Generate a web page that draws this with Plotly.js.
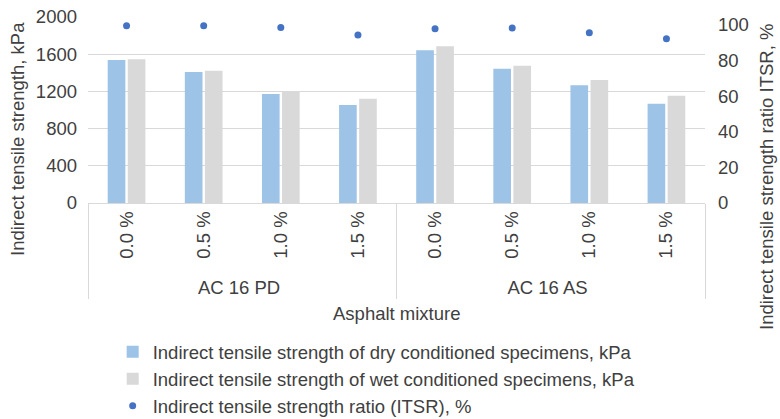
<!DOCTYPE html>
<html>
<head>
<meta charset="utf-8">
<script src="https://cdn.plot.ly/plotly-3.0.1.min.js"></script>
<style>html,body{margin:0;padding:0;background:#fff}#chart{width:780px;height:419px}</style>
</head>
<body>
<div id="chart"></div>
<script>
const groups = ["AC 16 PD","AC 16 PD","AC 16 PD","AC 16 PD","AC 16 AS","AC 16 AS","AC 16 AS","AC 16 AS"];
const contents = ["0.0 %","0.5 %","1.0 %","1.5 %","0.0 %","0.5 %","1.0 %","1.5 %"];
const dryITS = [1538, 1409, 1172, 1054, 1642, 1444, 1265, 1068];
const wetITS = [1545, 1423, 1197, 1122, 1685, 1477, 1323, 1154];
const itsr = [99.6, 99.6, 98.6, 94.4, 97.9, 98.3, 95.7, 92.3];
const leftTicks = [0, 400, 800, 1200, 1600, 2000];
const rightTicks = [0, 20, 40, 60, 80, 100];

const FONT = "Liberation Sans, Arial, sans-serif";
const TXT = "#404040";
const FS = 18.5;
const x = [groups, contents];

const data = [
  {type:"bar", name:"Indirect tensile strength of dry conditioned specimens, kPa", x:x, y:dryITS, marker:{color:"#9DC3E6"}},
  {type:"bar", name:"Indirect tensile strength of wet conditioned specimens, kPa", x:x, y:wetITS, marker:{color:"#D9D9D9"}},
  {type:"scatter", mode:"markers", name:"Indirect tensile strength ratio (ITSR), %", x:x, y:itsr, yaxis:"y2", marker:{color:"#4472C4", size:7}}
];

const layout = {
  width:780, height:419,
  margin:{l:88, r:75, t:17, b:216, autoexpand:false},
  paper_bgcolor:"#fff", plot_bgcolor:"#fff",
  font:{family:FONT, size:FS, color:TXT},
  barmode:"group", bargap:0.48, bargroupgap:0.12,
  showlegend:true,
  legend:{x:0.04, y:-0.70, xanchor:"left", yanchor:"top", orientation:"v", font:{size:FS, color:TXT}, tracegroupgap:0, itemwidth:30, bgcolor:"rgba(0,0,0,0)"},
  xaxis:{type:"multicategory", tickangle:-90, showline:true, linecolor:"#D9D9D9", linewidth:1, showdividers:true, dividercolor:"#D9D9D9", dividerwidth:1, ticks:"", tickfont:{size:FS, color:TXT}, fixedrange:true},
  yaxis:{range:[0,2000], tickvals:leftTicks, ticktext:leftTicks.map(String), showgrid:true, gridcolor:"#D9D9D9", gridwidth:1, zeroline:false, showline:false, ticks:"", ticklabelstandoff:10, tickfont:{size:FS, color:TXT}, fixedrange:true},
  yaxis2:{overlaying:"y", side:"right", range:[0,104.5], tickvals:rightTicks, ticktext:rightTicks.map(String), showgrid:false, zeroline:false, showline:false, ticks:"", ticklabelstandoff:12, tickfont:{size:FS, color:TXT}, fixedrange:true},
  annotations:[
    {text:"Indirect tensile strength, kPa", xref:"paper", yref:"paper", x:(17-88)/617, y:(203-139)/186, xanchor:"center", yanchor:"middle", textangle:-90, showarrow:false, font:{size:FS, color:TXT}},
    {text:"Indirect tensile strength ratio ITSR, %", xref:"paper", yref:"paper", x:(766-88)/617, y:(203-177)/186, xanchor:"center", yanchor:"middle", textangle:-90, showarrow:false, font:{size:FS, color:TXT}},
    {text:"Asphalt mixture", xref:"paper", yref:"paper", x:0.5, y:(203-313)/186, xanchor:"center", yanchor:"middle", showarrow:false, font:{size:FS, color:TXT}}
  ]
};

Plotly.newPlot("chart", data, layout, {displayModeBar:false, staticPlot:true});
</script>
</body>
</html>
